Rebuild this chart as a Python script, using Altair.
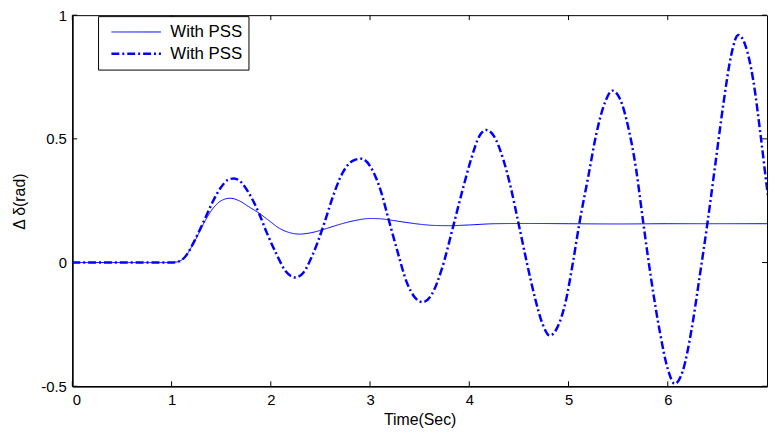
import altair as alt
import pandas as pd

# ---- data ----
t_solid = [0.0, 0.5, 1.0, 1.07, 1.15, 1.2, 1.27, 1.34, 1.42, 1.5, 1.59, 1.68, 1.78, 1.88, 1.98,
           2.08, 2.18, 2.29, 2.4, 2.54, 2.7, 2.85, 3.0, 3.1, 3.2, 3.35, 3.5, 3.65, 3.8, 4.0,
           4.26, 4.6, 5.0, 5.5, 6.0, 6.5, 7.05]
v_solid = [0.0, 0.0, 0.0, 0.004, 0.03, 0.062, 0.115, 0.17, 0.22, 0.25, 0.26, 0.25, 0.225, 0.20, 0.17,
           0.14, 0.122, 0.115, 0.12, 0.135, 0.155, 0.17, 0.178, 0.177, 0.172, 0.163, 0.155, 0.15, 0.149, 0.152,
           0.157, 0.158, 0.157, 0.156, 0.157, 0.157, 0.157]

t_dash = [0.0, 0.5, 1.0, 1.07, 1.15, 1.2, 1.27, 1.34, 1.42, 1.5, 1.57, 1.63, 1.7, 1.78, 1.88,
          1.96, 2.05, 2.15, 2.25, 2.33, 2.42, 2.54, 2.62, 2.72, 2.82, 2.91, 3.0, 3.1, 3.19,
          3.28, 3.37, 3.45, 3.53, 3.62, 3.72, 3.84, 3.93, 4.02, 4.1, 4.17, 4.25, 4.34, 4.42,
          4.49, 4.58, 4.66, 4.74, 4.81, 4.89, 4.97, 5.04, 5.11, 5.2, 5.28, 5.37, 5.44, 5.52,
          5.6, 5.68, 5.75, 5.83, 5.92, 6.0, 6.07, 6.15, 6.24, 6.32, 6.4, 6.48, 6.56, 6.64,
          6.71, 6.78, 6.86, 6.94, 7.0, 7.05]
v_dash = [0.0, 0.0, 0.0, 0.004, 0.03, 0.064, 0.12, 0.18, 0.25, 0.305, 0.335, 0.34, 0.325, 0.28, 0.20,
          0.12, 0.04, -0.035, -0.06, -0.04, 0.03, 0.16, 0.26, 0.36, 0.41, 0.42, 0.39, 0.30, 0.17,
          0.04, -0.08, -0.14, -0.16, -0.13, -0.03, 0.15, 0.29, 0.42, 0.51, 0.536, 0.51, 0.42, 0.30,
          0.17, 0.0, -0.14, -0.25, -0.295, -0.26, -0.16, -0.01, 0.16, 0.35, 0.52, 0.65, 0.695, 0.66,
          0.55, 0.38, 0.17, -0.06, -0.28, -0.43, -0.49, -0.44, -0.27, -0.06, 0.16, 0.40, 0.64, 0.84,
          0.92, 0.88, 0.74, 0.50, 0.30, 0.16]

series_keys = ["s1", "s2"]
series_label = "With PSS"
x_ticks = [0, 1, 2, 3, 4, 5, 6]
y_ticks = [-0.5, 0, 0.5, 1]
x_min, x_max = 0, 7
y_min, y_max = -0.5, 1
tick_len_x = 0.05   # inward tick length in x units
tick_len_y = 0.02   # inward tick length in y units

df = pd.concat([
    pd.DataFrame({"t": t_solid, "v": v_solid, "s": series_keys[0]}),
    pd.DataFrame({"t": t_dash, "v": v_dash, "s": series_keys[1]}),
])
dfx = pd.DataFrame({"tk": x_ticks})
dfy = pd.DataFrame({"tk": y_ticks})

FONT = "Liberation Sans"
xs = alt.Scale(domain=[x_min, x_max], nice=False, zero=False)
ys = alt.Scale(domain=[y_min, y_max], nice=False, zero=False)

leg = alt.Legend(
    title=None, orient="none", legendX=26, legendY=1,
    labelExpr=f"'{series_label}'", symbolType="stroke", symbolSize=2500,
    clipHeight=20, rowPadding=2, padding=6, symbolOffset=6, labelFontSize=17, labelFont=FONT,
    labelColor="black", strokeColor="black", fillColor="white", labelOffset=8,
    symbolStrokeColor="#0000ff", cornerRadius=0,
)

lines = alt.Chart(df).mark_line(interpolate="monotone", clip=True).encode(
    x=alt.X("t:Q", scale=xs, axis=alt.Axis(values=x_ticks, title="Time(Sec)", titleY=26,
                                           labelExpr="'' + datum.value")),
    y=alt.Y("v:Q", scale=ys, axis=alt.Axis(values=y_ticks, title="\u0394 \u03b4(rad)",
                                           labelExpr="'' + datum.value",
                                           titleX=-45, titleY=188)),
    color=alt.Color("s:N", scale=alt.Scale(domain=series_keys, range=["#0000ff", "#0000ff"]), legend=leg),
    strokeDash=alt.StrokeDash("s:N", scale=alt.Scale(domain=series_keys, range=[[1, 0], [8, 3, 2, 3]]), legend=leg),
    strokeWidth=alt.StrokeWidth("s:N", scale=alt.Scale(domain=series_keys, range=[1, 2.5]), legend=leg),
    order="t:Q",
)

rs = dict(color="black", strokeWidth=1)
xb = alt.Chart(dfx).mark_rule(**rs).encode(
    x=alt.X("tk:Q", scale=xs), y=alt.datum(y_min), y2=alt.datum(y_min + tick_len_y))
xt = alt.Chart(dfx).mark_rule(**rs).encode(
    x=alt.X("tk:Q", scale=xs), y=alt.datum(y_max), y2=alt.datum(y_max - tick_len_y))
yl = alt.Chart(dfy).mark_rule(**rs).encode(
    y=alt.Y("tk:Q", scale=ys), x=alt.datum(x_min), x2=alt.datum(x_min + tick_len_x))
yr = alt.Chart(dfy).mark_rule(**rs).encode(
    y=alt.Y("tk:Q", scale=ys), x=alt.datum(x_max), x2=alt.datum(x_max - tick_len_x))

chart = alt.layer(xb, xt, yl, yr, lines).properties(
    width=702, height=375,
    autosize=alt.AutoSizeParams(type="none"),
    padding={"left": 65, "top": 5, "right": 1, "bottom": 44},
    background="white",
).configure_view(stroke="black", strokeWidth=1).configure_axis(
    ticks=False, tickSize=0, grid=False, domain=True, domainColor="black", domainWidth=1.5,
    labelFont=FONT, labelFontSize=15, labelColor="black", labelPadding=6,
    titleFont=FONT, titleFontSize=16, titleColor="black", titleFontWeight="normal",
)

chart.save("out.html", embed_options={"renderer": "svg", "actions": False})
